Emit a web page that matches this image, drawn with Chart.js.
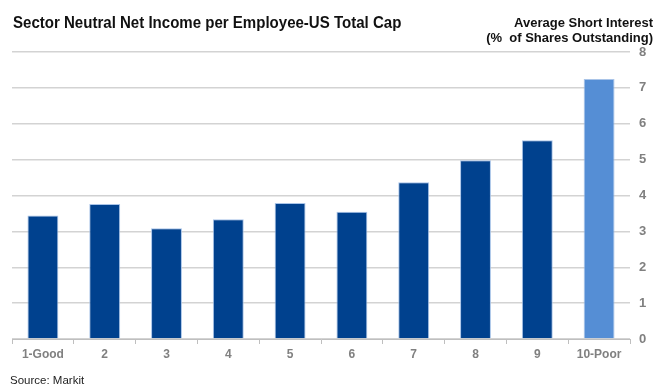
<!DOCTYPE html>
<html>
<head>
<meta charset="utf-8">
<script src="https://cdn.jsdelivr.net/npm/chart.js@4.4.0/dist/chart.umd.min.js"></script>
<style>
  html, body { margin: 0; padding: 0; background: #fff; }
  #wrap { position: relative; width: 656px; height: 385px; font-family: "Liberation Sans", Arial, sans-serif; overflow: hidden; }
  #c { position: absolute; left: 0; top: 0; }
  .t { position: absolute; white-space: nowrap; }
  #title { left: 13px; top: 14px; font-size: 16px; line-height: 18px; font-weight: bold; color: #111; transform: scaleX(0.94); transform-origin: left top; }
  #rt { right: 3px; top: 15px; font-size: 13px; font-weight: bold; color: #111; text-align: right; line-height: 15px; }
  #src { left: 10px; top: 374px; font-size: 11.5px; line-height: 13px; color: #222; }
</style>
</head>
<body>
<div id="wrap">
  <canvas id="c" width="656" height="385"></canvas>
  <div class="t" id="title">Sector Neutral Net Income per Employee-US Total Cap</div>
  <div class="t" id="rt">Average Short Interest<br>(% &nbsp;of Shares Outstanding)</div>
  <div class="t" id="src">Source: Markit</div>
</div>
<script>
const categories = ["1-Good", "2", "3", "4", "5", "6", "7", "8", "9", "10-Poor"];
const shortInterest = [3.44, 3.76, 3.09, 3.34, 3.79, 3.55, 4.37, 4.98, 5.54, 7.25];
const yTicks = [0, 1, 2, 3, 4, 5, 6, 7, 8];

const barColors = categories.map((c, i) => i === categories.length - 1 ? '#558ED5' : '#00418E');

new Chart(document.getElementById('c'), {
  type: 'bar',
  data: {
    labels: categories,
    datasets: [{
      data: shortInterest,
      backgroundColor: barColors,
      borderColor: 'rgba(160,190,230,0.9)',
      borderWidth: 1,
      categoryPercentage: 1.0,
      barPercentage: 0.5
    }]
  },
  options: {
    responsive: false,
    animation: false,
    layout: { padding: { left: 12, top: 52, right: 0, bottom: 20 } },
    plugins: { legend: { display: false }, tooltip: { enabled: false }, title: { display: false } },
    scales: {
      x: {
        grid: { display: true, offset: true, drawOnChartArea: false, drawTicks: true, tickLength: 5, color: '#bfbfbf' },
        border: { display: true, color: '#bfbfbf' },
        ticks: { color: '#808080', font: { family: 'Liberation Sans', size: 12, weight: 'bold' }, padding: 3, maxRotation: 0 },
        afterFit: s => { s.height = 26; }
      },
      y: {
        position: 'right',
        min: 0, max: 8,
        afterBuildTicks: s => { s.ticks = yTicks.map(v => ({ value: v })); },
        grid: { color: '#d3d3d3', lineWidth: 1.5, drawTicks: false },
        border: { display: false },
        ticks: { color: '#808080', font: { family: 'Liberation Sans', size: 13, weight: 'bold' }, padding: 9 },
        afterFit: s => { s.width = 26; }
      }
    }
  }
});
</script>
</body>
</html>
